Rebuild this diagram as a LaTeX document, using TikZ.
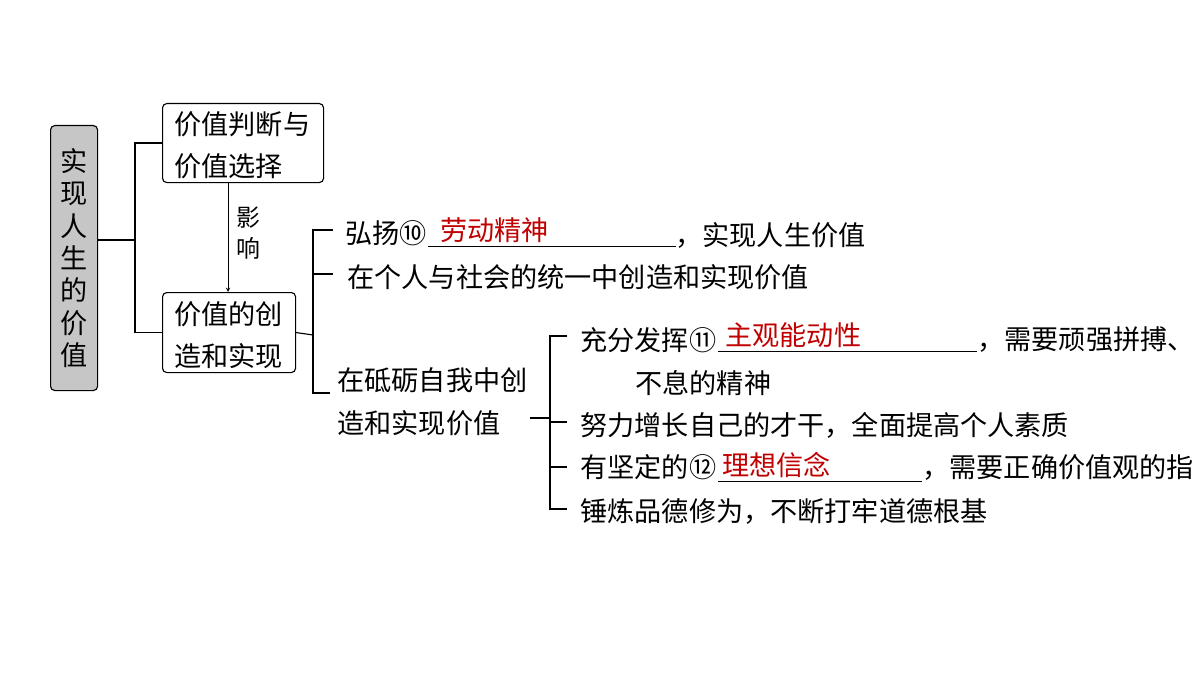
\documentclass[tikz,border=0pt]{standalone}
\usepackage{fontspec}
\setmainfont{Noto Sans CJK SC}
\definecolor{ansred}{RGB}{192,0,0}
\begin{document}
\begin{tikzpicture}[x=0.025cm,y=-0.025cm,line width=0.8pt,
    txt/.style={anchor=west,inner sep=0pt,font=\fontsize{19.3}{23}\selectfont},
    box/.style={draw,rounded corners=3pt,thick,anchor=north west,inner sep=0pt},
    ans/.style={txt,text=ansred}]
    % Frame
    \useasboundingbox (0,0) rectangle (1200,676);
    \clip (0,0) rectangle (1200,676);
    %boxes
    \node[box,fill=gray!45,minimum width=47*0.025cm,minimum height=265*0.025cm] (root) at (50,125) {};
    \node[txt,anchor=center,align=center,font=\fontsize{19.3}{23}\selectfont] at (root.center) {实\\现\\人\\生\\的\\价\\值};
    \node[box,minimum width=161*0.025cm,minimum height=79*0.025cm] (judge) at (162,103) {};
    \node[txt,align=left,font=\fontsize{19.3}{30}\selectfont] at (174,145) {价值判断与\\价值选择};
    \node[box,minimum width=133*0.025cm,minimum height=80*0.025cm] (create) at (162,292) {};
    \node[txt,align=left,font=\fontsize{19.3}{30}\selectfont] at (174,335) {价值的创\\造和实现};
    \draw[->,>=stealth,thin] (judge.south -| 228,0) -- (create.north -| 228,0);
    \node[txt,align=left,font=\fontsize{17}{22}\selectfont] at (236,233) {影\\响};
    %brackets
    \coordinate (b1) at (135,240);
    \draw (root.east |- b1) -- (b1);
    \draw (judge.west) -| (b1) |- (create.west);
    \draw (create.east) -- (313,335);
    \draw (333,230) -- (313,230) -- (313,393) -- (330,393);
    \draw (313,274) -- (333,274);
    \draw (530,418) -- (550,418);
    \draw (567,336) -- (550,336) -- (550,509) -- (567,509);
    \draw (550,422) -- (567,422);
    \draw (550,467) -- (567,467);
    %texts
    \node[txt] at (345,233) {弘扬⑩};
    \draw[thin] (428,246) -- (676,246);
    \node[ans] at (440,230) {劳动精神};
    \node[txt] at (675,235) {，实现人生价值};
    \node[txt] at (347,277) {在个人与社会的统一中创造和实现价值};
    \node[txt,align=left,font=\fontsize{19.3}{30.5}\selectfont] at (337,402) {在砥砺自我中创\\造和实现价值};
    \node[txt] at (580,340) {充分发挥⑪};
    \draw[thin] (718,351) -- (977,351);
    \node[ans] at (725,335) {主观能动性};
    \node[txt] at (977,340) {，需要顽强拼搏、};
    \node[txt] at (635,383) {不息的精神};
    \node[txt] at (580,425) {努力增长自己的才干，全面提高个人素质};
    \node[txt] at (580,467) {有坚定的⑫};
    \draw[thin] (718,481) -- (922,481);
    \node[ans] at (722,465) {理想信念};
    \node[txt] at (922,467) {，需要正确价值观的指};
    \node[txt] at (580,511) {锤炼品德修为，不断打牢道德根基};
\end{tikzpicture}
\end{document}
